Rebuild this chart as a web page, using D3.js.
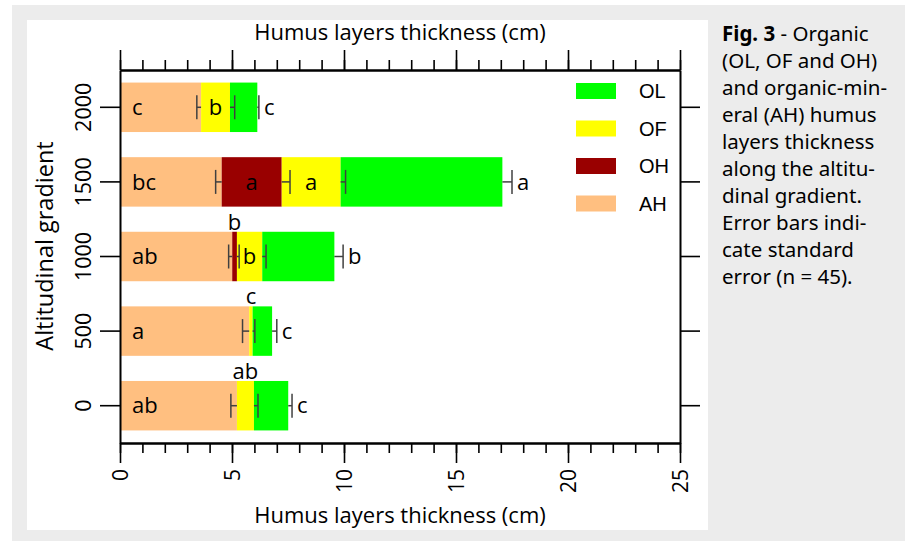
<!DOCTYPE html>
<html><head><meta charset="utf-8">
<script src="https://cdn.jsdelivr.net/npm/d3@7"></script>
<style>
html,body{margin:0;padding:0;background:#fff;}
svg{display:block;}
</style></head>
<body>
<svg id="chart" width="917" height="542"></svg>
<script>
// ---- data ----
const altitudes = [0, 500, 1000, 1500, 2000];
const layers = ["AH", "OH", "OF", "OL"];
const AH = [5.22, 5.77, 5.01, 4.54, 3.62];
const OH = [0, 0, 0.21, 2.68, 0];
const OF = [0.76, 0.15, 1.13, 2.63, 1.29];
const OL = [1.53, 0.87, 3.22, 7.22, 1.22];
const seAH = [0.27, 0.30, 0.16, 0.27, 0.19];
const seOH = [0, 0, 0.10, 0.37, 0];
const seOF = [0.18, 0.10, 0.17, 0.22, 0.21];
const seOL = [0.17, 0.21, 0.39, 0.43, 0.07];
const lettersAH = ["ab", "a", "ab", "bc", "c"];
const lettersOH = ["", "", "b", "a", ""];
const lettersOF = ["ab", "c", "b", "a", "b"];
const lettersOL = ["c", "c", "b", "a", "c"];
const xTicks = [0, 5, 10, 15, 20, 25];
const legendOrder = ["OL", "OF", "OH", "AH"];
const xTitle = "Humus layers thickness (cm)";
const yTitle = "Altitudinal gradient";

const values = {AH, OH, OF, OL};
const ses = {AH: seAH, OH: seOH, OF: seOF, OL: seOL};
const letters = {AH: lettersAH, OH: lettersOH, OF: lettersOF, OL: lettersOL};
const colors = {AH: "#ffbf80", OH: "#990000", OF: "#ffff00", OL: "#00ff00"};

const svg = d3.select("#chart");
const axisFont = "'Open Sans', sans-serif";

// backgrounds
svg.append("rect").attr("x", 12).attr("y", 5).attr("width", 893).attr("height", 536).attr("fill", "#ececec");
svg.append("rect").attr("x", 27).attr("y", 20).attr("width", 681).attr("height", 510).attr("fill", "#ffffff");

const L = 120, R = 680, T = 70, B = 443;
const x = d3.scaleLinear().domain([0, 25]).range([L, R]);
const y = d3.scaleBand().domain(altitudes.slice().reverse().map(String)).range([T, B]).paddingInner(0.337).paddingOuter(0.1685);

// stacked data
const rows = altitudes.map((a, i) => {
  const r = {alt: String(a)};
  layers.forEach(k => r[k] = values[k][i]);
  return r;
});
const stack = d3.stack().keys(layers)(rows);

const g = svg.append("g");
stack.forEach(series => {
  g.selectAll(null).data(series).enter().append("rect")
    .attr("x", d => x(d[0]))
    .attr("width", d => x(d[1]) - x(d[0]))
    .attr("y", d => y(d.data.alt))
    .attr("height", y.bandwidth())
    .attr("fill", colors[series.key]);
});

// error bars
const eb = svg.append("g").attr("stroke", "#404040").attr("stroke-width", 1.5);
const capHalf = 12;
stack.forEach(series => {
  const k = series.key;
  series.forEach((d, i) => {
    if (values[k][i] <= 0) return;
    const end = d[1];
    const se = ses[k][i];
    const tip = k === "AH" ? end - se : end + se;
    const cy = y(d.data.alt) + y.bandwidth() / 2;
    eb.append("line").attr("x1", x(end)).attr("x2", x(tip)).attr("y1", cy).attr("y2", cy);
    eb.append("line").attr("x1", x(tip)).attr("x2", x(tip)).attr("y1", cy - capHalf).attr("y2", cy + capHalf);
  });
});

// letters
const lg = svg.append("g").attr("font-family", axisFont).attr("font-size", 22).attr("fill", "#000");
stack.forEach(series => {
  const k = series.key;
  series.forEach((d, i) => {
    const txt = letters[k][i];
    if (!txt) return;
    const top = y(d.data.alt);
    const cy = top + y.bandwidth() / 2;
    const w = x(d[1]) - x(d[0]);
    if (k === "AH") {
      lg.append("text").attr("x", x(0) + 12).attr("y", cy).attr("dy", "0.35em").text(txt);
    } else if (k === "OL") {
      lg.append("text").attr("x", x(d[1] + ses[k][i]) + 5).attr("y", cy).attr("dy", "0.35em").text(txt);
    } else if (w > 20) {
      lg.append("text").attr("x", (x(d[0]) + x(d[1])) / 2).attr("y", cy).attr("dy", "0.35em").attr("text-anchor", "middle").text(txt);
    } else {
      lg.append("text").attr("x", (x(d[0]) + x(d[1])) / 2).attr("y", top - 2).attr("text-anchor", "middle").text(txt);
    }
  });
});

// axes
const minor = d3.range(0, 26, 1);
function styleAxis(sel) {
  sel.select(".domain").attr("stroke", "#000").attr("stroke-width", 2);
  sel.selectAll(".tick line").attr("stroke", "#000").attr("stroke-width", 1.6);
}
// bottom minor
const bMinor = svg.append("g").attr("transform", `translate(0,${B})`)
  .call(d3.axisBottom(x).tickValues(minor).tickSize(10).tickFormat("").tickSizeOuter(0));
styleAxis(bMinor);
const bMajor = svg.append("g").attr("transform", `translate(0,${B})`)
  .call(d3.axisBottom(x).tickValues(xTicks).tickSize(20).tickSizeOuter(0).tickFormat(d3.format("d")));
styleAxis(bMajor);
bMajor.selectAll(".tick text")
  .attr("font-family", axisFont).attr("font-size", 21).attr("fill", "#000")
  .attr("text-anchor", "end").attr("dy", null).attr("y", null)
  .attr("transform", "translate(7.5,26) rotate(-90)");

// top
const tMinor = svg.append("g").attr("transform", `translate(0,${T})`)
  .call(d3.axisTop(x).tickValues(minor).tickSize(10).tickFormat("").tickSizeOuter(0));
styleAxis(tMinor);
const tMajor = svg.append("g").attr("transform", `translate(0,${T})`)
  .call(d3.axisTop(x).tickValues(xTicks).tickSize(20).tickFormat("").tickSizeOuter(0));
styleAxis(tMajor);

// left
const lAx = svg.append("g").attr("transform", `translate(${L},0)`)
  .call(d3.axisLeft(y).tickSize(20).tickSizeOuter(0));
styleAxis(lAx);
lAx.selectAll(".tick text")
  .attr("font-family", axisFont).attr("font-size", 21.5).attr("fill", "#000")
  .attr("text-anchor", "middle").attr("dy", null).attr("x", null)
  .attr("transform", "translate(-29.5,0) rotate(-90)");

// right
const rAx = svg.append("g").attr("transform", `translate(${R},0)`)
  .call(d3.axisRight(y).tickSize(20).tickSizeOuter(0).tickFormat(""));
styleAxis(rAx);

// axis titles
svg.append("text").attr("x", (L + R) / 2).attr("y", 40).attr("text-anchor", "middle")
  .attr("font-family", axisFont).attr("font-size", 22).text(xTitle);
svg.append("text").attr("x", (L + R) / 2).attr("y", 523).attr("text-anchor", "middle")
  .attr("font-family", axisFont).attr("font-size", 22).text(xTitle);
svg.append("text").attr("transform", `translate(53,246) rotate(-90)`).attr("text-anchor", "middle")
  .attr("font-family", axisFont).attr("font-size", 23.5).text(yTitle);

// legend
const leg = svg.append("g");
legendOrder.forEach((k, i) => {
  const ly = 91 + i * 37.5;
  leg.append("rect").attr("x", 576).attr("y", ly - 8).attr("width", 40).attr("height", 16).attr("fill", colors[k]);
  leg.append("text").attr("x", 639).attr("y", ly).attr("dy", "0.35em")
    .attr("font-family", "'Liberation Sans', Arial, sans-serif").attr("font-size", 20).text(k);
});

// caption
const capLines = [
  [["Fig. 3", true], [" - Organic", false]],
  [["(OL, OF and OH)", false]],
  [["and organic-min-", false]],
  [["eral (AH) humus", false]],
  [["layers thickness", false]],
  [["along the altitu-", false]],
  [["dinal gradient.", false]],
  [["Error bars indi-", false]],
  [["cate standard", false]],
  [["error (n = 45).", false]]
];
const cap = svg.append("text").attr("font-family", "'Noto Sans', sans-serif").attr("font-size", 20.5).attr("fill", "#000");
capLines.forEach((line, i) => {
  line.forEach((seg, j) => {
    const t = cap.append("tspan").text(seg[0]).attr("font-weight", seg[1] ? "bold" : "normal");
    if (j === 0) t.attr("x", 722).attr("y", 41 + i * 27);
  });
});
</script>
</body></html>
